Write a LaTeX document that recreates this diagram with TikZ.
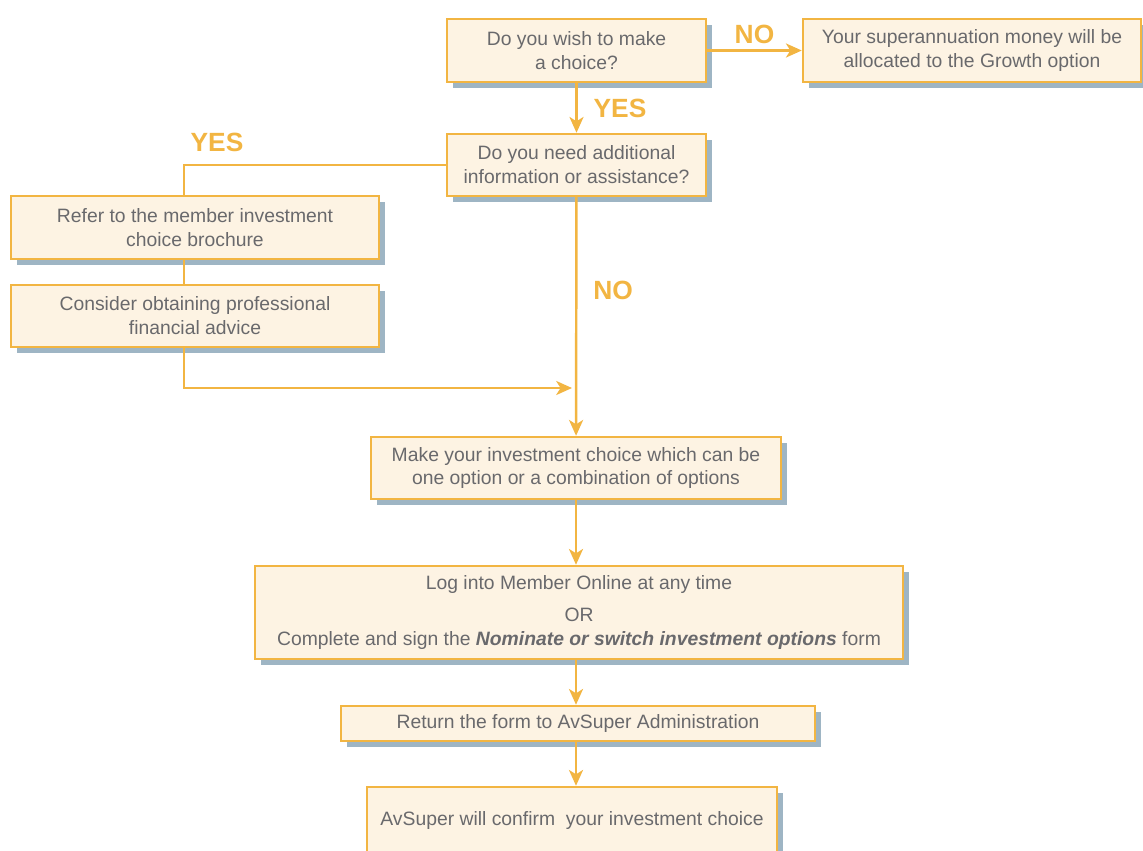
\documentclass[tikz,border=0pt]{standalone}
\usepackage{fontspec}
\setmainfont{Liberation Sans}
\usetikzlibrary{arrows.meta, positioning, shadows}

\definecolor{flowline}{RGB}{242,181,66}
\definecolor{boxfill}{RGB}{253,243,227}
\definecolor{shadowblue}{RGB}{158,181,196}
\definecolor{textgray}{RGB}{105,105,108}

\tikzset{
  stepbox/.style={draw=flowline, line width=1.4pt, fill=boxfill, text=textgray,
    align=center, inner sep=0pt, font=\fontsize{11}{13.6}\selectfont,
    drop shadow={shadow xshift=0.12cm, shadow yshift=-0.12cm, fill=shadowblue, opacity=1}},
  answer/.style={text=flowline, font=\fontsize{15}{18}\selectfont\bfseries},
  flow/.style={draw=flowline, line width=1.4pt},
  >={Stealth[length=9pt, width=8pt, inset=2.5pt]}
}

\begin{document}
\begin{tikzpicture}
  \useasboundingbox (0,0) rectangle (22.86,-17);

  % questions
  \node[stepbox, minimum width=5.18cm, minimum height=1.26cm] (wish) at (11.53,-1.01) {Do you wish to make\\ a choice?};
  \node[stepbox, minimum width=6.76cm, minimum height=1.26cm] (growth) at (19.44,-1.01) {Your superannuation money will be\\ allocated to the Growth option};
  \node[stepbox, minimum width=5.18cm, minimum height=1.24cm] (need) at (11.53,-3.30) {Do you need additional\\ information or assistance?};

  % help
  \node[stepbox, minimum width=7.36cm, minimum height=1.26cm] (brochure) at (3.90,-4.55) {Refer to the member investment\\ choice brochure};
  \node[stepbox, minimum width=7.36cm, minimum height=1.24cm] (advice) at (3.90,-6.32) {Consider obtaining professional\\ financial advice};
  \coordinate (join) at (11.44,-7.76);

  % choice and form
  \node[stepbox, minimum width=8.2cm, minimum height=1.24cm] (choose) at (11.52,-9.36) {Make your investment choice which can be\\ one option or a combination of options};
  \node[stepbox, minimum width=12.96cm, minimum height=1.86cm] (login) at (11.58,-12.25) {Log into Member Online at any time\\[4.5pt] OR\\ Complete and sign the \textbf{\textit{Nominate or switch investment options}} form};
  \node[stepbox, minimum width=9.48cm, minimum height=0.70cm] (return) at (11.56,-14.47) {Return the form to AvSuper Administration};
  \node[stepbox, minimum width=8.2cm, minimum height=1.32cm] (confirm) at (11.44,-16.40) {AvSuper will confirm~ your investment choice};

  \draw[flow, ->] (wish) -- (growth) node[midway, above, answer] {NO};
  \draw[flow, ->] (wish) -- (need) node[midway, right=0.2cm, answer] {YES};
  \draw[flow] (need.west) -| ([xshift=-0.22cm]brochure.north);
  \node[answer] (yesleft) at (4.34,-2.84) {YES};
  \draw[flow] ([xshift=-0.22cm]brochure.south) -- ([xshift=-0.22cm]advice.north);
  \draw[flow, ->] ([xshift=-0.22cm]advice.south) |- (join);
  \draw[flow, ->] (need) -- (choose) node[pos=0.39, right=0.2cm, answer] {NO};
  \draw[flow, ->] (choose.south) -- (choose.south |- login.north);
  \draw[flow, ->] (choose.south |- login.south) -- (choose.south |- return.north);
  \draw[flow, ->] (choose.south |- return.south) -- (choose.south |- confirm.north);
\end{tikzpicture}
\end{document}
